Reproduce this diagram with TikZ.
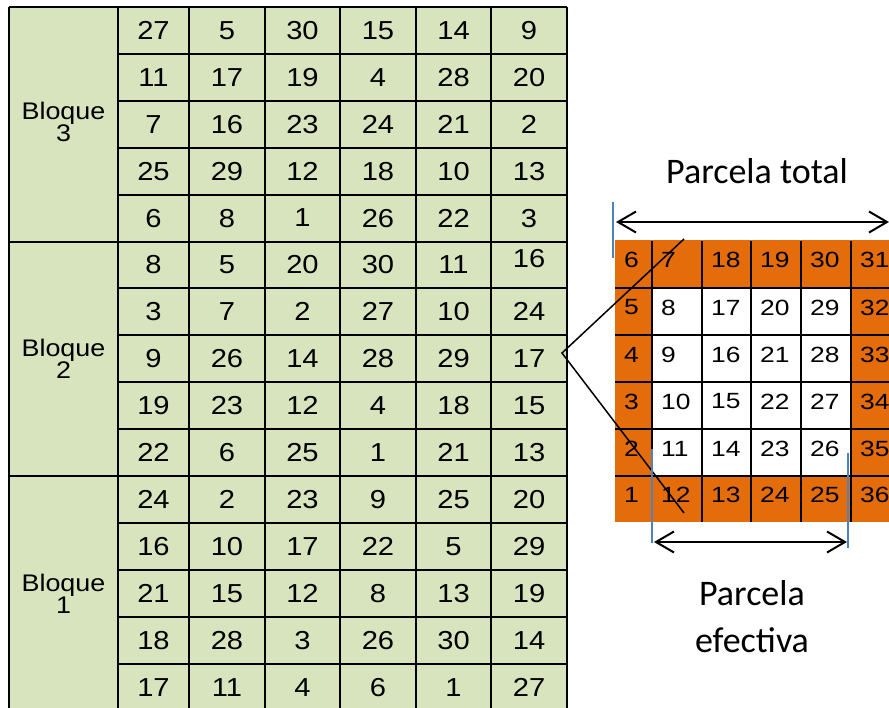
\documentclass[tikz,border=0pt]{standalone}
\usepackage{fontspec}
\setmainfont{Liberation Sans}
\newfontfamily\calib{Carlito}
\newfontfamily\lfont[FakeStretch=1.12]{Liberation Sans}
\newfontfamily\rfont[FakeStretch=1.2]{Liberation Sans}
\usetikzlibrary{arrows.meta}
\definecolor{gfill}{HTML}{D7E4BD}
\definecolor{ofill}{HTML}{E46C0A}
\definecolor{bline}{HTML}{4F81BD}
\begin{document}
\begin{tikzpicture}[x=1pt,y=-1pt,
  gridline/.style={line width=2pt,black},
  lnum/.style={font=\lfont\fontsize{26}{28}\selectfont,inner sep=0pt,anchor=center},
  rnum/.style={font=\rfont\fontsize{22}{24}\selectfont,inner sep=0pt,anchor=west},
  blabel/.style={font=\lfont\fontsize{24}{22}\selectfont,align=center,inner sep=0pt},
  ptext/.style={font=\calib\fontsize{36}{47}\selectfont,align=center,inner sep=0pt},
  diag/.style={line width=1.5pt,black},
  marker/.style={line width=2pt,bline},
  dimarrow/.style={line width=2pt,{Straight Barb[length=18pt,width=21pt,line width=2pt]}-{Straight Barb[length=18pt,width=21pt,line width=2pt]}}]
\useasboundingbox (0,0) rectangle (889,707);
\begin{scope}
\clip (0,0) rectangle (889,707);
% ---------- left table ----------
\fill[gfill] (9,7) rectangle (567,712);
\def\lxc{{153.5,227,302.5,378,453.5,529}}
\foreach \row [count=\r from 0] in {
  {27,5,30,15,14,9},{11,17,19,4,28,20},{7,16,23,24,21,2},{25,29,12,18,10,13},{6,8,1,26,22,3},
  {8,5,20,30,11,16},{3,7,2,27,10,24},{9,26,14,28,29,17},{19,23,12,4,18,15},{22,6,25,1,21,13},
  {24,2,23,9,25,20},{16,10,17,22,5,29},{21,15,12,8,13,19},{18,28,3,26,30,14},{17,11,4,6,1,27}}{
  \foreach \v [count=\c from 0] in \row {
    \pgfmathsetmacro\xx{\lxc[\c]}
    \pgfmathsetmacro\yy{7+46.9*(\r+0.5)-6*and(\r==5,\c==5)}
    \node[lnum] (L-\r-\c) at (\xx,\yy) {\v};
  }
}
% horizontal lines inside blocks
\foreach \r in {1,2,3,4,6,7,8,9,11,12,13,14}{
  \draw[gridline] (118,{7+46.9*\r}) -- (567,{7+46.9*\r});
}
% block separators
\foreach \r in {0,5,10}{
  \draw[gridline] (9,{7+46.9*\r}) -- (567,{7+46.9*\r});
}
% vertical lines
\foreach \x in {9,118,189,265,340,416,491,567}{
  \draw[gridline] (\x,7) -- (\x,712);
}
\node[blabel] (B3) at (63.5,122) {Bloque\\3};
\node[blabel] (B2) at (63.5,359) {Bloque\\2};
\node[blabel] (B1) at (63.5,594) {Bloque\\1};
% ---------- right plot ----------
\fill[ofill] (615,240) rectangle (901,522);
\fill[white] (652,288) rectangle (851,476);
\def\rxl{{615,652,702,751,801,851}}
\def\ryc{{260,307.5,354.5,401.5,448.5,495}}
\foreach \row [count=\r from 0] in {
  {6,7,18,19,30,31},{5,8,17,20,29,32},{4,9,16,21,28,33},
  {3,10,15,22,27,34},{2,11,14,23,26,35},{1,12,13,24,25,36}}{
  \foreach \v [count=\c from 0] in \row {
    \pgfmathsetmacro\xx{\rxl[\c]+9}
    \pgfmathsetmacro\yy{\ryc[\r]}
    \node[rnum] (R-\r-\c) at (\xx,\yy) {\v};
  }
}
\foreach \y in {288,335,382,429,476}{
  \draw[gridline] (615,\y) -- (901,\y);
}
\foreach \x in {652,702,751,801,851}{
  \draw[gridline] (\x,241) -- (\x,522);
}
% zoom lines
\coordinate (apex) at (562,353);
\coordinate (dtop) at (684,239);
\coordinate (dbot) at (684,513);
\draw[diag] (dtop) -- (apex) -- (dbot);
% blue markers
\coordinate (m1a) at (613,202); \coordinate (m1b) at (613,258);
\coordinate (m2a) at (652,449); \coordinate (m2b) at (652,543);
\coordinate (m3a) at (848,453); \coordinate (m3b) at (848,548);
\draw[marker] (m1a) -- (m1b);
\draw[marker] (m2a) -- (m2b);
\draw[marker] (m3a) -- (m3b);
% dimension arrows
\coordinate (ta) at (616,222); \coordinate (tb) at (889,222);
\coordinate (ba) at (654,542); \coordinate (bb) at (847,542);
\draw[dimarrow] (ta) -- (tb);
\draw[dimarrow] (ba) -- (bb);
% labels
\node[ptext,anchor=base] (PT) at (757,183) {Parcela total};
\node[ptext,anchor=base] (PE) at (752,652) {Parcela\\efectiva};
\end{scope}
\end{tikzpicture}
\end{document}
